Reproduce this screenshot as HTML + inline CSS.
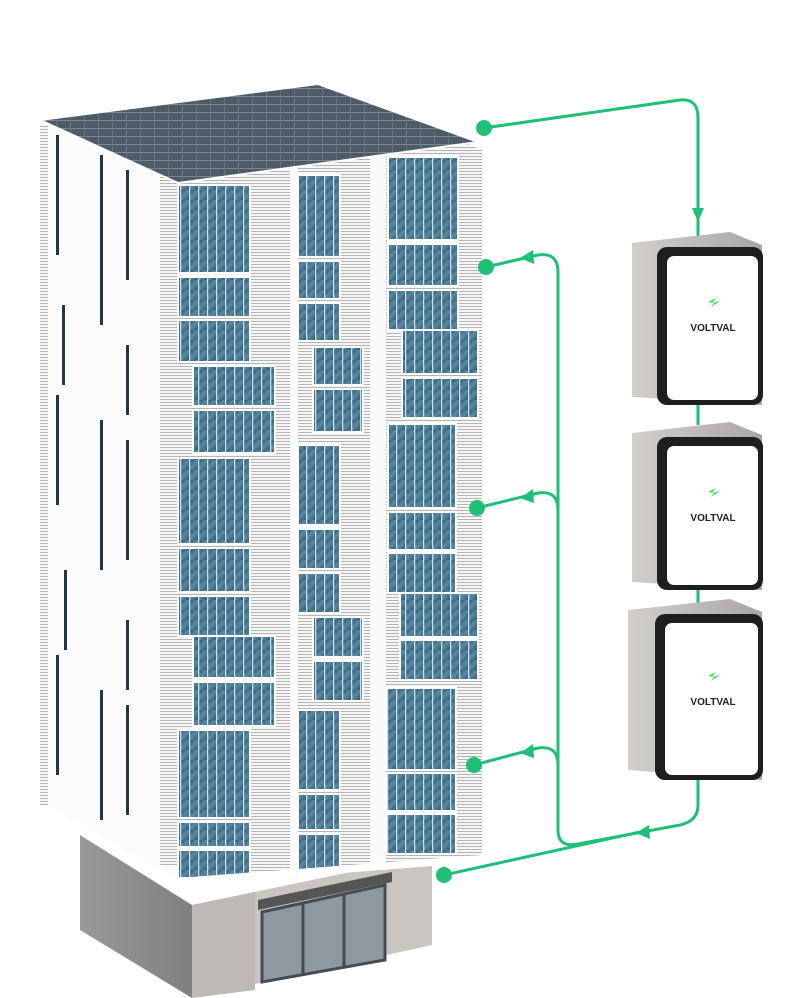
<!DOCTYPE html>
<html><head><meta charset="utf-8"><style>
html,body{margin:0;padding:0;background:#fff;width:800px;height:998px;overflow:hidden}
svg{display:block}
</style></head><body>
<svg width="800" height="998" viewBox="0 0 800 998" xmlns="http://www.w3.org/2000/svg">
<defs>
<pattern id="louv" width="4" height="3" patternUnits="userSpaceOnUse"><rect width="4" height="3" fill="#f6f6f6"/><rect width="4" height="1" fill="#b4b4b4"/></pattern>
<linearGradient id="gl" x1="0" y1="0" x2="1" y2="1"><stop offset="0" stop-color="#24506e"/><stop offset="0.5" stop-color="#5a8aa2"/><stop offset="1" stop-color="#2c5a78"/></linearGradient>
<pattern id="mull" width="9" height="10" patternUnits="userSpaceOnUse"><rect width="9" height="10" fill="url(#gl)"/><rect width="1.3" height="10" fill="#cfdde4"/></pattern>
<pattern id="roof" width="14" height="8" patternUnits="userSpaceOnUse"><rect width="14" height="8" fill="#4d5b69"/><rect width="14" height="1" fill="#7c8792"/><rect width="1" height="8" fill="#66727e"/></pattern>
<linearGradient id="bat" x1="0" x2="1"><stop offset="0" stop-color="#d2cfcc"/><stop offset="1" stop-color="#a9a6a3"/></linearGradient>
<linearGradient id="baseL" x1="0" x2="1"><stop offset="0" stop-color="#9a9a9a"/><stop offset="1" stop-color="#7f7f7f"/></linearGradient>
</defs>

<!-- base -->
<polygon points="80,835 192,905 192,998 80,930" fill="url(#baseL)"/>
<polygon points="192,905 432,855 432,945 192,998" fill="#c9c6c2"/>
<polygon points="192,905 255,892 255,990 192,998" fill="#bdbab6"/>
<polygon points="262,912 385,885 385,960 262,982" fill="#8d98a0" stroke="#454b50" stroke-width="3"/>
<line x1="303" y1="903" x2="303" y2="975" stroke="#454b50" stroke-width="3"/>
<line x1="344" y1="894" x2="344" y2="968" stroke="#454b50" stroke-width="3"/>
<polygon points="258,900 392,872 392,882 258,910" fill="#555"/>

<!-- left face -->
<polygon points="40,120 178,183 178,880 40,800" fill="#fbfbfb"/>
<rect x="40" y="125" width="8" height="680" fill="url(#louv)"/>
<rect x="160" y="175" width="18" height="690" fill="url(#louv)"/>
<g fill="#20384a">
<rect x="56" y="135" width="3" height="120"/><rect x="100" y="155" width="3" height="170"/><rect x="126" y="170" width="3" height="110"/>
<rect x="62" y="305" width="3" height="80"/><rect x="126" y="345" width="3" height="70"/><rect x="100" y="420" width="3" height="150"/>
<rect x="56" y="395" width="3" height="110"/><rect x="126" y="440" width="3" height="120"/><rect x="64" y="570" width="3" height="80"/>
<rect x="126" y="620" width="3" height="70"/><rect x="56" y="655" width="3" height="120"/><rect x="100" y="690" width="3" height="130"/><rect x="126" y="705" width="3" height="110"/>
</g>

<!-- front face -->
<polygon points="178,183 465,143 482,145 482,860 178,880" fill="url(#louv)"/>
<g fill="#fafafa">
<rect x="290" y="160" width="8" height="720"/><rect x="370" y="150" width="16" height="720"/>
</g>
<g fill="url(#mull)" stroke="#fff" stroke-width="2">
<rect x="178" y="185" width="72" height="88"/><rect x="178" y="277" width="72" height="40"/><rect x="178" y="320" width="72" height="42"/>
<rect x="193" y="366" width="82" height="40"/><rect x="193" y="410" width="82" height="43"/>
<rect x="178" y="458" width="72" height="86"/><rect x="178" y="548" width="72" height="44"/><rect x="178" y="596" width="72" height="40"/>
<rect x="193" y="636" width="82" height="42"/><rect x="193" y="682" width="82" height="44"/>
<rect x="178" y="730" width="72" height="88"/><rect x="178" y="822" width="72" height="25"/><rect x="178" y="850" width="72" height="28"/>
<rect x="298" y="175" width="42" height="82"/><rect x="298" y="261" width="42" height="38"/><rect x="298" y="303" width="42" height="38"/>
<rect x="313" y="347" width="50" height="38"/><rect x="313" y="389" width="50" height="43"/>
<rect x="298" y="445" width="42" height="80"/><rect x="298" y="529" width="42" height="40"/><rect x="298" y="573" width="42" height="40"/>
<rect x="313" y="617" width="50" height="40"/><rect x="313" y="661" width="50" height="40"/>
<rect x="298" y="710" width="42" height="80"/><rect x="298" y="794" width="42" height="36"/><rect x="298" y="834" width="42" height="36"/>
<rect x="388" y="157" width="70" height="83"/><rect x="388" y="244" width="70" height="42"/><rect x="388" y="290" width="70" height="40"/>
<rect x="402" y="330" width="76" height="44"/><rect x="402" y="378" width="76" height="40"/>
<rect x="388" y="424" width="68" height="84"/><rect x="388" y="512" width="68" height="38"/><rect x="388" y="553" width="68" height="40"/>
<rect x="400" y="593" width="78" height="44"/><rect x="400" y="640" width="78" height="40"/>
<rect x="386" y="688" width="70" height="82"/><rect x="386" y="773" width="70" height="38"/><rect x="386" y="814" width="70" height="40"/>
</g>
<polygon points="178,878 482,855 482,862 178,886" fill="#fff"/>

<!-- roof -->
<polygon points="40,120 318,84 478,142 178,183" fill="url(#roof)" stroke="#fff" stroke-width="2"/>
<polygon points="465,143 482,145 482,150" fill="#fff"/>

<!-- connectors -->
<g fill="none" stroke="#1fbf78" stroke-width="3">
<path d="M484,128 L680,100 Q698,98 698,118 L698,238"/>
<path d="M486,267 L538,255 Q558,252 558,272 L558,830 Q558,848 578,844 L680,825 Q698,821 698,805 L698,780"/>
<path d="M477,508 L538,493 Q558,490 558,510"/>
<path d="M474,765 L538,748 Q558,745 558,765"/>
<path d="M444,875 L640,832"/>
<path d="M698,405 L698,425"/><path d="M698,590 L698,603"/>
</g>
<g fill="#1fbf78">
<circle cx="484" cy="128" r="8"/><circle cx="486" cy="267" r="8"/><circle cx="477" cy="508" r="8"/><circle cx="474" cy="765" r="8"/><circle cx="444" cy="875" r="8"/>
<polygon points="692,208 704,208 698,222"/>
<polygon points="520,258 533,250 534,264"/>
<polygon points="520,498 533,489 534,503"/>
<polygon points="520,753 533,744 534,758"/>
<polygon points="636,833 649,825 650,839"/>
</g>

<!-- batteries -->
<g>
<polygon points="632,243 730,232 762,245 762,405 632,397" fill="url(#bat)"/>
<rect x="657" y="247" width="106" height="158" rx="10" fill="#1e1e1e"/>
<rect x="667" y="256" width="91" height="144" rx="7" fill="#fff"/>
<polygon points="632,433 730,422 762,435 762,590 632,582" fill="url(#bat)"/>
<rect x="657" y="437" width="106" height="153" rx="10" fill="#1e1e1e"/>
<rect x="667" y="446" width="91" height="139" rx="7" fill="#fff"/>
<polygon points="628,610 730,599 762,612 762,780 628,770" fill="url(#bat)"/>
<rect x="655" y="614" width="108" height="166" rx="10" fill="#1e1e1e"/>
<rect x="665" y="623" width="93" height="152" rx="7" fill="#fff"/>
</g>
<g font-family="Liberation Sans, sans-serif" font-weight="bold" fill="#222" text-anchor="middle">
<text x="713" y="331" font-size="10">VOLTVAL</text>
<text x="713" y="521" font-size="10">VOLTVAL</text>
<text x="713" y="705" font-size="10">VOLTVAL</text>
</g>
<g fill="#3fdc4f">
<path d="M708,302 l8,-4 -4,5 8,-2 -9,6 3,-4z"/>
<path d="M708,492 l8,-4 -4,5 8,-2 -9,6 3,-4z"/>
<path d="M708,676 l8,-4 -4,5 8,-2 -9,6 3,-4z"/>
</g>
</svg>
</body></html>
